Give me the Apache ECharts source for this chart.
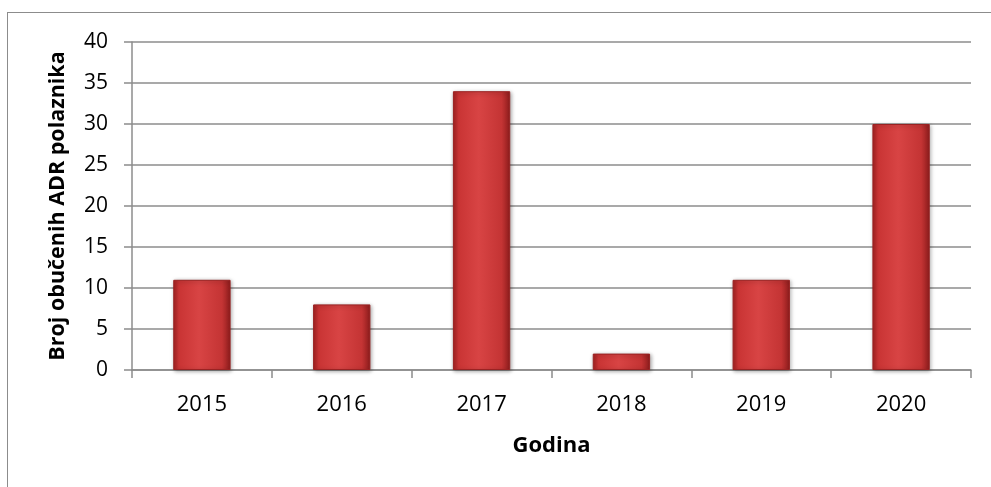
<!DOCTYPE html>
<html><head><meta charset="utf-8">
<script src="https://cdn.jsdelivr.net/npm/echarts@6/dist/echarts.min.js"></script>
<style>
html,body{margin:0;padding:0;background:#fff;}
#frame{position:absolute;left:7px;top:12px;width:1100px;height:600px;border:1.5px solid #8c8c8c;box-sizing:border-box;}
#c{position:absolute;left:0;top:0;width:991px;height:487px;}
</style></head>
<body>
<div id="frame"></div>
<div id="c"></div>
<script>
const categories = ['2015','2016','2017','2018','2019','2020'];
const values = [11, 8, 34, 2, 11, 30];
const yTicks = [0, 5, 10, 15, 20, 25, 30, 35, 40];

const chart = echarts.init(document.getElementById('c'));
const font = '"Open Sans", sans-serif';
chart.setOption({
  animation: false,
  grid: {left: 132, right: 20, top: 42, bottom: 117},
  xAxis: {
    type: 'category', data: categories,
    name: 'Godina', nameLocation: 'middle', nameGap: 65,
    nameTextStyle: {fontFamily: font, fontSize: 22, fontWeight: 'bold', color: '#000'},
    axisLine: {lineStyle: {color: '#8c8c8c', width: 1.5}},
    axisTick: {show: true, length: 8, alignWithLabel: false, lineStyle: {color: '#8c8c8c', width: 1.5}},
    axisLabel: {margin: 24, fontFamily: font, fontSize: 22, color: '#000'}
  },
  yAxis: {
    type: 'value', min: 0, max: 40, interval: 5,
    name: 'Broj obučenih ADR polaznika', nameLocation: 'middle', nameGap: 63,
    nameTextStyle: {fontFamily: font, fontSize: 21.5, fontWeight: 'bold', color: '#000'},
    axisLine: {show: true, lineStyle: {color: '#8c8c8c', width: 1.5}},
    axisTick: {show: true, length: 8, lineStyle: {color: '#8c8c8c', width: 1.5}},
    axisLabel: {margin: 24, fontFamily: font, fontSize: 21, color: '#000',
      formatter: v => yTicks.includes(v) ? String(v) : ''},
    splitLine: {show: true, lineStyle: {color: '#8c8c8c', width: 1.5}}
  },
  series: [{
    type: 'bar', data: values, barWidth: '41%',
    itemStyle: {
      color: new echarts.graphic.LinearGradient(0, 0, 1, 0, [
        {offset: 0, color: '#a52222'},
        {offset: 0.1, color: '#c93434'},
        {offset: 0.45, color: '#d84444'},
        {offset: 0.85, color: '#c43434'},
        {offset: 1, color: '#8e1c1c'}
      ]),
      borderColor: '#9a2222', borderWidth: 1,
      shadowColor: 'rgba(0,0,0,0.35)', shadowBlur: 4, shadowOffsetX: 1, shadowOffsetY: 1
    }
  }]
});
</script>
</body></html>
